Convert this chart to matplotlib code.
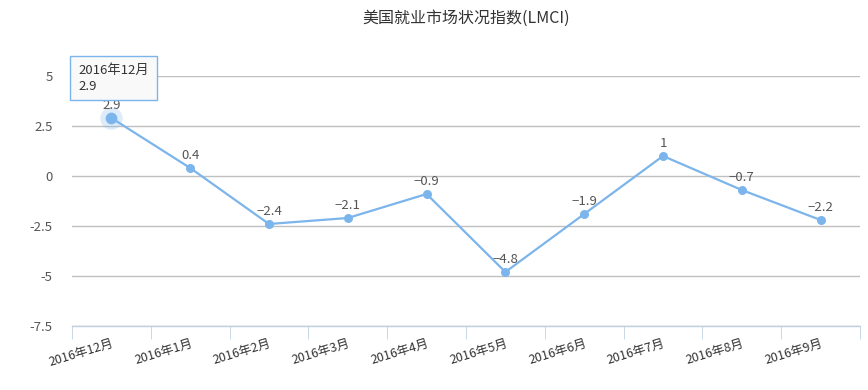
import matplotlib
matplotlib.use("Agg")
import matplotlib.pyplot as plt
import numpy as np

plt.rcParams['font.family'] = ['Noto Sans CJK SC', 'DejaVu Sans']

months = ['2016年12月', '2016年1月', '2016年2月', '2016年3月', '2016年4月',
          '2016年5月', '2016年6月', '2016年7月', '2016年8月', '2016年9月']
lmci = [2.9, 0.4, -2.4, -2.1, -0.9, -4.8, -1.9, 1, -0.7, -2.2]
yticks = [-7.5, -5, -2.5, 0, 2.5, 5]
ytick_labels = ['-7.5', '-5', '-2.5', '0', '2.5', '5']

line_color = '#7cb5ec'
text_color = '#555555'

fig = plt.figure(figsize=(8.68, 3.9), dpi=100)
ax = fig.add_axes([72 / 868, 1 - 326 / 390, 788 / 868, 250 / 390])

x = np.arange(len(months))
ax.plot(x, lmci, color=line_color, lw=1.6, zorder=3)
ax.scatter(x[1:], lmci[1:], s=30, color=line_color, zorder=4)
# hovered first point
ax.scatter(x[:1], lmci[:1], s=260, color=line_color, alpha=0.25, zorder=4, linewidths=0)
ax.scatter(x[:1], lmci[:1], s=55, color=line_color, zorder=5)

for xi, v in zip(x, lmci):
    lbl = f'{v:g}'.replace('-', '−')
    ax.annotate(lbl, (xi, v), xytext=(0, 4), textcoords='offset points',
                ha='center', va='bottom', fontsize=9.5, color=text_color, zorder=6)

ax.set_xlim(-0.5, len(months) - 0.5)
ax.set_ylim(-7.5, 5)
ax.set_yticks(yticks)
ax.set_yticklabels(ytick_labels)
ax.yaxis.grid(True, color='#c0c0c0', lw=1)
ax.set_axisbelow(True)

ax.set_xticks(x)
ax.set_xticklabels(months, rotation=17, ha='right', rotation_mode='anchor')
ax.set_xticks(np.arange(len(months) + 1) - 0.5, minor=True)
ax.tick_params(axis='x', which='major', length=0, pad=8, labelsize=9, colors='#333333')
ax.tick_params(axis='x', which='minor', length=9, color='#c0d0e0')
ax.tick_params(axis='y', length=0, pad=14, labelsize=9.5, colors=text_color)

for s in ['top', 'right', 'left']:
    ax.spines[s].set_visible(False)
ax.spines['bottom'].set_color('#c0d0e0')
ax.spines['bottom'].set_linewidth(1)

fig.text(466 / 868, 1 - 18 / 390, '美国就业市场状况指数(LMCI)', ha='center', va='center',
         fontsize=11.5, color='#333333')

# tooltip
fig.text(78 / 868, 1 - 78 / 390, '2016年12月\n2.9', ha='left', va='center',
         fontsize=9.5, color='#333333', linespacing=1.3,
         bbox=dict(boxstyle='square,pad=0.6', facecolor='#f9f9f9', edgecolor=line_color, lw=1))

fig.savefig('out.png', dpi=100)
